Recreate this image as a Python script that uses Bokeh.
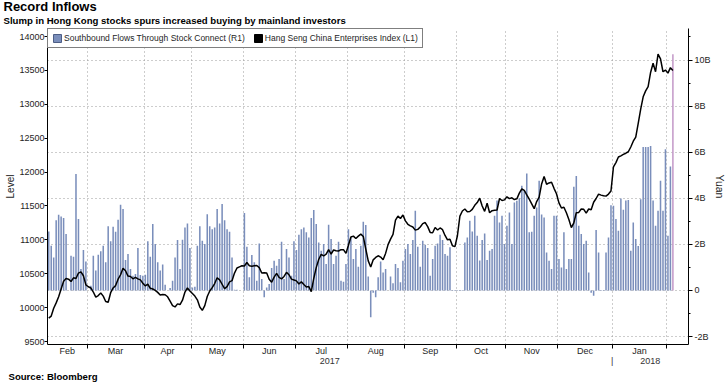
from bokeh.plotting import figure
from bokeh.models import (Range1d, LinearAxis, FixedTicker, CustomJSTickFormatter,
                          Legend, LegendItem, ColumnDataSource, Grid, Title)
from bokeh.embed import file_html
from bokeh.resources import INLINE

# ---------------- data ----------------
title_text = "Record Inflows"
subtitle_text = "Slump in Hong Kong stocks spurs increased buying by mainland investors"
source_text = "Source: Bloomberg"
bar_label = "Southbound Flows Through Stock Connect (R1)"
line_label = "Hang Seng China Enterprises Index (L1)"
left_title = "Level"
right_title = "Yuan"

month_names = ["Feb", "Mar", "Apr", "May", "Jun", "Jul", "Aug", "Sep", "Oct", "Nov", "Dec", "Jan"]
month_days = [16, 23, 19, 21, 21, 21, 23, 21, 20, 21, 22, 22, 3]
year_labels = ["2017", "2018"]

level_ticks = [9500, 10000, 10500, 11000, 11500, 12000, 12500, 13000, 13500, 14000]
yuan_ticks = [-2, 0, 2, 4, 6, 8, 10]
yuan_minor = [-1, 1, 3, 5, 7, 9, 11]

# Hang Seng China Enterprises Index (left axis)
hscei = [
    9845, 9875, 9990, 10070, 10160, 10275, 10390, 10430, 10420, 10385,
    10440, 10430, 10510, 10528, 10470, 10335, 10308, 10290, 10230, 10155,
    10178, 10215, 10170, 10090, 10080, 10220, 10290, 10325, 10420, 10485,
    10580, 10545, 10465, 10460, 10425, 10445, 10425, 10410, 10360, 10320,
    10345, 10285, 10275, 10255, 10225, 10185, 10195, 10190, 10160, 10095,
    10030, 10010, 10055, 10045, 10110, 10230, 10290, 10245, 10208, 10170,
    10115, 10010, 9960, 10030, 10165, 10245, 10295, 10355, 10440, 10410,
    10345, 10280, 10310, 10380, 10398, 10510, 10585, 10602, 10617, 10615,
    10665, 10618, 10612, 10618, 10621, 10590, 10510, 10515, 10510, 10420,
    10375, 10450, 10505, 10445, 10424, 10460, 10520, 10485, 10420, 10408,
    10395, 10350, 10380, 10340, 10305, 10310, 10237, 10430, 10590, 10710,
    10785, 10762, 10790, 10855, 10790, 10850, 10840, 10836, 10855, 10855,
    10800, 10920, 11042, 11055, 11020, 11055, 11085, 11050, 10865, 10690,
    10600, 10705, 10740, 10765, 10746, 10705, 10800, 10930, 11010, 11080,
    11290, 11350, 11315, 11366, 11280, 11230, 11206, 11190, 11143, 11155,
    11190, 11240, 11255, 11195, 11110, 11105, 11182, 11145, 11175, 11150,
    11065, 11000, 11010, 10912, 10900, 11060, 11350, 11425, 11455, 11415,
    11418, 11450, 11510, 11550, 11615, 11500, 11420, 11540, 11400, 11430,
    11435, 11440, 11610, 11580, 11590, 11635, 11608, 11620, 11595, 11605,
    11690, 11750, 11730, 11665, 11600, 11530, 11460, 11565, 11630, 11825,
    11935, 11820, 11840, 11850, 11760, 11680, 11545, 11470, 11480, 11400,
    11300, 11180, 11250, 11400, 11405, 11455, 11450, 11395, 11455, 11445,
    11555, 11610, 11675, 11660, 11650, 11645, 11675, 11720, 12075, 12140,
    12222, 12240, 12260, 12278, 12300, 12370, 12455, 12515, 12720, 12930,
    13110, 13198, 13260, 13470, 13605, 13480, 13740, 13670, 13480, 13505,
    13460, 13540, 13500,
]

# Southbound flows, billion yuan (right axis)
flows = [
    2.56, 1.94, 1.43, 3.05, 3.28, 3.21, 3.14, 2.45, 0.0, 1.51,
    1.46, 5.05, 3.10, 0.93, 1.75, 1.26, 0.0, 0.2, 1.51, 0.86,
    1.55, 1.7, 1.94, 1.22, 2.79, 2.13, 2.76, 2.55, 3.07, 3.72,
    3.53, 1.32, 1.58, 0.93, 0.64, 0.71, 1.84, 0.67, 0.64, 0.68,
    2.13, 1.46, 2.88, 2.01, 1.22, 0.86, 1.12, 0.25, 0.0, 0.1,
    0.42, 1.43, 2.19, 0.93, 2.2, 2.73, 2.91, 1.84, 0.13, 0.16,
    1.94, 2.78, 2.16, 2.01, 3.31, 2.78, 2.66, 2.73, 3.53, 2.91,
    3.75, 3.05, 2.66, 2.55, 1.43, 0.03, 0.03, 0.0, 0.0, 3.36,
    1.9, 0.57, 1.54, 1.22, 0.42, 2.04, 0.5, -0.3, 0.13, 0.28,
    0.97, 1.29, 1.07, 1.36, 2.11, 0.5, 1.8, 1.43, 0.64, 2.13,
    1.75, 2.42, 2.66, 2.73, 2.52, 2.3, 3.14, 3.49, 2.88, 2.08,
    1.72, 2.01, 1.15, 2.85, 2.23, 1.15, 1.51, 2.11, 0.42, 0.38,
    1.15, 2.66, 2.3, 1.36, 1.8, 1.03, 1.94, 2.98, 2.84, 0.6,
    -1.16, -0.1, -0.3, 0.57, 1.26, 0.78, 0.93, 0.0, 0.6, 0.31,
    1.15, 0.97, 0.35, 1.29, 1.8, 2.01, 1.58, 2.19, 3.46, 1.9,
    1.03, 2.16, 1.98, 1.84, 0.64, 1.36, 1.94, 2.04, 2.42, 2.19,
    1.58, 1.51, 1.87, 0.02, 0.02, 0.02, 0.02, 0.02, 2.08, 2.3,
    3.02, 2.56, 3.24, 2.37, 1.3, 2.19, 2.47, 1.32, 1.72, 1.8,
    3.24, 3.9, 2.95, 3.24, 2.01, 2.81, 3.38, 2.01, 3.82, 3.89,
    4.0, 4.54, 4.32, 5.07, 2.52, 2.55, 3.24, 3.6, 4.76, 3.3,
    3.17, 1.65, 1.29, 0.93, 3.24, 3.24, 1.36, 1.0, 2.52, 0.93,
    1.36, 1.36, 4.5, 4.97, 2.81, 2.45, 2.01, 2.16, 0.78, -0.1,
    -0.23, 2.62, 1.65, 0.02, 0.02, 1.65, 2.3, 3.7, 3.67, 3.1,
    2.59, 3.99, 3.5, 3.9, 3.92, 1.72, 2.95, 2.23, 1.93, 3.96,
    6.23, 6.23, 6.23, 6.27, 3.9, 2.81, 3.46, 4.76, 3.46, 6.13,
    2.37, 5.38, 10.25,
]

# ---------------- layout / style ----------------
FONT = "Liberation Sans"
BAR_COLOR = "#7a8ebb"
LAST_BAR_COLOR = "#c49ac9"
GRID_COLOR = "#9a9a9a"
TEXT_COLOR = "#1e1e1e"

W, H = 728, 386
BORDER_L, BORDER_R, BORDER_T, BORDER_B = 47, 34, 28, 42
PX = 2.5                                   # pixels per trading day
PX_PER_B = 23.04                           # pixels per billion yuan
PX_PER_LEVEL = 0.06778                     # pixels per index point
FRAME_H = H - BORDER_T - BORDER_B
X_LO = -0.5
X_HI = X_LO + (W - BORDER_L - BORDER_R) / PX
Y_LO = -2.347
Y_HI = Y_LO + FRAME_H / PX_PER_B
L_LO = 9456
L_HI = L_LO + FRAME_H / PX_PER_LEVEL

n = len(hscei)
idx = list(range(n))

bounds = []
acc = 0
for d in month_days[:-1]:
    acc += d
    bounds.append(acc - 0.5)
starts = [X_LO] + bounds[:-1]
centers = [(a + b) / 2 for a, b in zip(starts, bounds)]
year_break = bounds[10]
year_ticks = [(X_LO + year_break) / 2, year_break, (year_break + X_HI) / 2]
year_texts = [year_labels[0], "|", year_labels[1]]

p = figure(width=W, height=H, x_range=Range1d(X_LO, X_HI), y_range=Range1d(Y_LO, Y_HI),
           x_axis_type=None, y_axis_type=None, output_backend="svg",
           toolbar_location=None, title=None,
           min_border_left=BORDER_L, min_border_right=BORDER_R,
           min_border_top=BORDER_T, min_border_bottom=BORDER_B)
p.extra_y_ranges = {"level": Range1d(L_LO, L_HI)}
p.outline_line_color = None
p.background_fill_color = "white"
p.border_fill_color = "white"

p.add_layout(Grid(dimension=0, ticker=FixedTicker(ticks=bounds), grid_line_color=GRID_COLOR,
                  grid_line_dash="1 3", grid_line_width=1))
p.add_layout(Grid(dimension=1, ticker=FixedTicker(ticks=yuan_ticks), grid_line_color=GRID_COLOR,
                  grid_line_dash="1 3", grid_line_width=1))

colors = [BAR_COLOR] * (n - 1) + [LAST_BAR_COLOR]
src = ColumnDataSource(dict(x=idx, flows=flows, hscei=hscei, color=colors))
p.vbar(x="x", top="flows", bottom=0, width=0.62, fill_color="color", line_color=None, source=src)
p.line(x="x", y="hscei", y_range_name="level", line_color="black", line_width=1.5, source=src)


def style_axis(ax, size="9px"):
    ax.axis_line_color = "black"
    ax.axis_line_width = 1
    ax.major_tick_line_color = "black"
    ax.minor_tick_line_color = "black"
    ax.major_label_text_font = FONT
    ax.major_label_text_font_size = size
    ax.major_label_text_color = TEXT_COLOR
    ax.axis_label_text_font = FONT
    ax.axis_label_text_font_size = "10.5px"
    ax.axis_label_text_font_style = "normal"
    ax.axis_label_text_color = TEXT_COLOR


left = LinearAxis(y_range_name="level", ticker=FixedTicker(ticks=level_ticks), axis_label=left_title)
style_axis(left)
left.major_tick_out = 3
left.major_tick_in = 0
left.minor_tick_line_color = None
left.major_label_standoff = 0
left.axis_label_standoff = 0
left.axis_label_text_font_size = "10px"
p.add_layout(left, "left")

right = LinearAxis(ticker=FixedTicker(ticks=yuan_ticks, minor_ticks=yuan_minor), axis_label=right_title,
                   formatter=CustomJSTickFormatter(code="return tick == 0 ? '0' : tick + 'B';"))
style_axis(right)
right.major_tick_out = 4
right.major_tick_in = 0
right.minor_tick_out = 2
right.minor_tick_in = 0
right.major_label_standoff = 2
right.axis_label_standoff = 0
p.add_layout(right, "right")

label_code = """
for (let i = 0; i < c.length; i++) { if (Math.abs(c[i] - tick) < 0.01) return names[i]; }
return "";
"""
bottom = LinearAxis(ticker=FixedTicker(ticks=centers, minor_ticks=bounds),
                    formatter=CustomJSTickFormatter(args=dict(c=centers, names=month_names), code=label_code))
style_axis(bottom)
bottom.major_tick_out = 0
bottom.major_tick_in = 0
bottom.major_tick_line_color = None
bottom.minor_tick_out = 4
bottom.minor_tick_in = 0
bottom.major_label_standoff = -3
p.add_layout(bottom, "below")

years = LinearAxis(ticker=FixedTicker(ticks=year_ticks, minor_ticks=[]),
                   formatter=CustomJSTickFormatter(args=dict(c=year_ticks, names=year_texts), code=label_code))
style_axis(years)
years.axis_line_color = None
years.major_tick_line_color = None
years.minor_tick_line_color = None
years.major_tick_out = 0
years.major_tick_in = 0
years.minor_tick_out = 0
years.minor_tick_in = 0
years.major_label_standoff = -3
years.major_label_text_color = "#333333"
p.add_layout(years, "below")

# titles: the first one added "above" sits nearest the frame
p.add_layout(Title(text=subtitle_text, align="left", offset=-44, standoff=6,
                   text_font=FONT, text_font_size="9.6px", text_font_style="bold",
                   text_color="black"), "above")
p.add_layout(Title(text=title_text, align="left", offset=-44, standoff=-8,
                   text_font=FONT, text_font_size="13px", text_font_style="bold",
                   text_color="black"), "above")
p.add_layout(Title(text=source_text, align="left", offset=-39, standoff=0,
                   text_font=FONT, text_font_size="9.6px", text_font_style="bold",
                   text_color="black"), "below")

nan = float("nan")
dummy_bar = p.vbar(x=[nan], top=[nan], width=1, fill_color=BAR_COLOR, line_color="#4d5e86")
dummy_idx = p.vbar(x=[nan], top=[nan], width=1, fill_color="black", line_color="black")
legend = Legend(items=[LegendItem(label=bar_label, renderers=[dummy_bar]),
                       LegendItem(label=line_label, renderers=[dummy_idx])],
                location=(0, FRAME_H - 20), orientation="horizontal",
                label_text_font=FONT, label_text_font_size="8.5px", label_text_color=TEXT_COLOR,
                glyph_width=10, glyph_height=10, label_height=10, label_standoff=2,
                spacing=8, padding=4, margin=0,
                border_line_color="black", border_line_width=1,
                background_fill_color="white", background_fill_alpha=1.0)
p.add_layout(legend)

open("out.html", "w").write(file_html(p, INLINE))
